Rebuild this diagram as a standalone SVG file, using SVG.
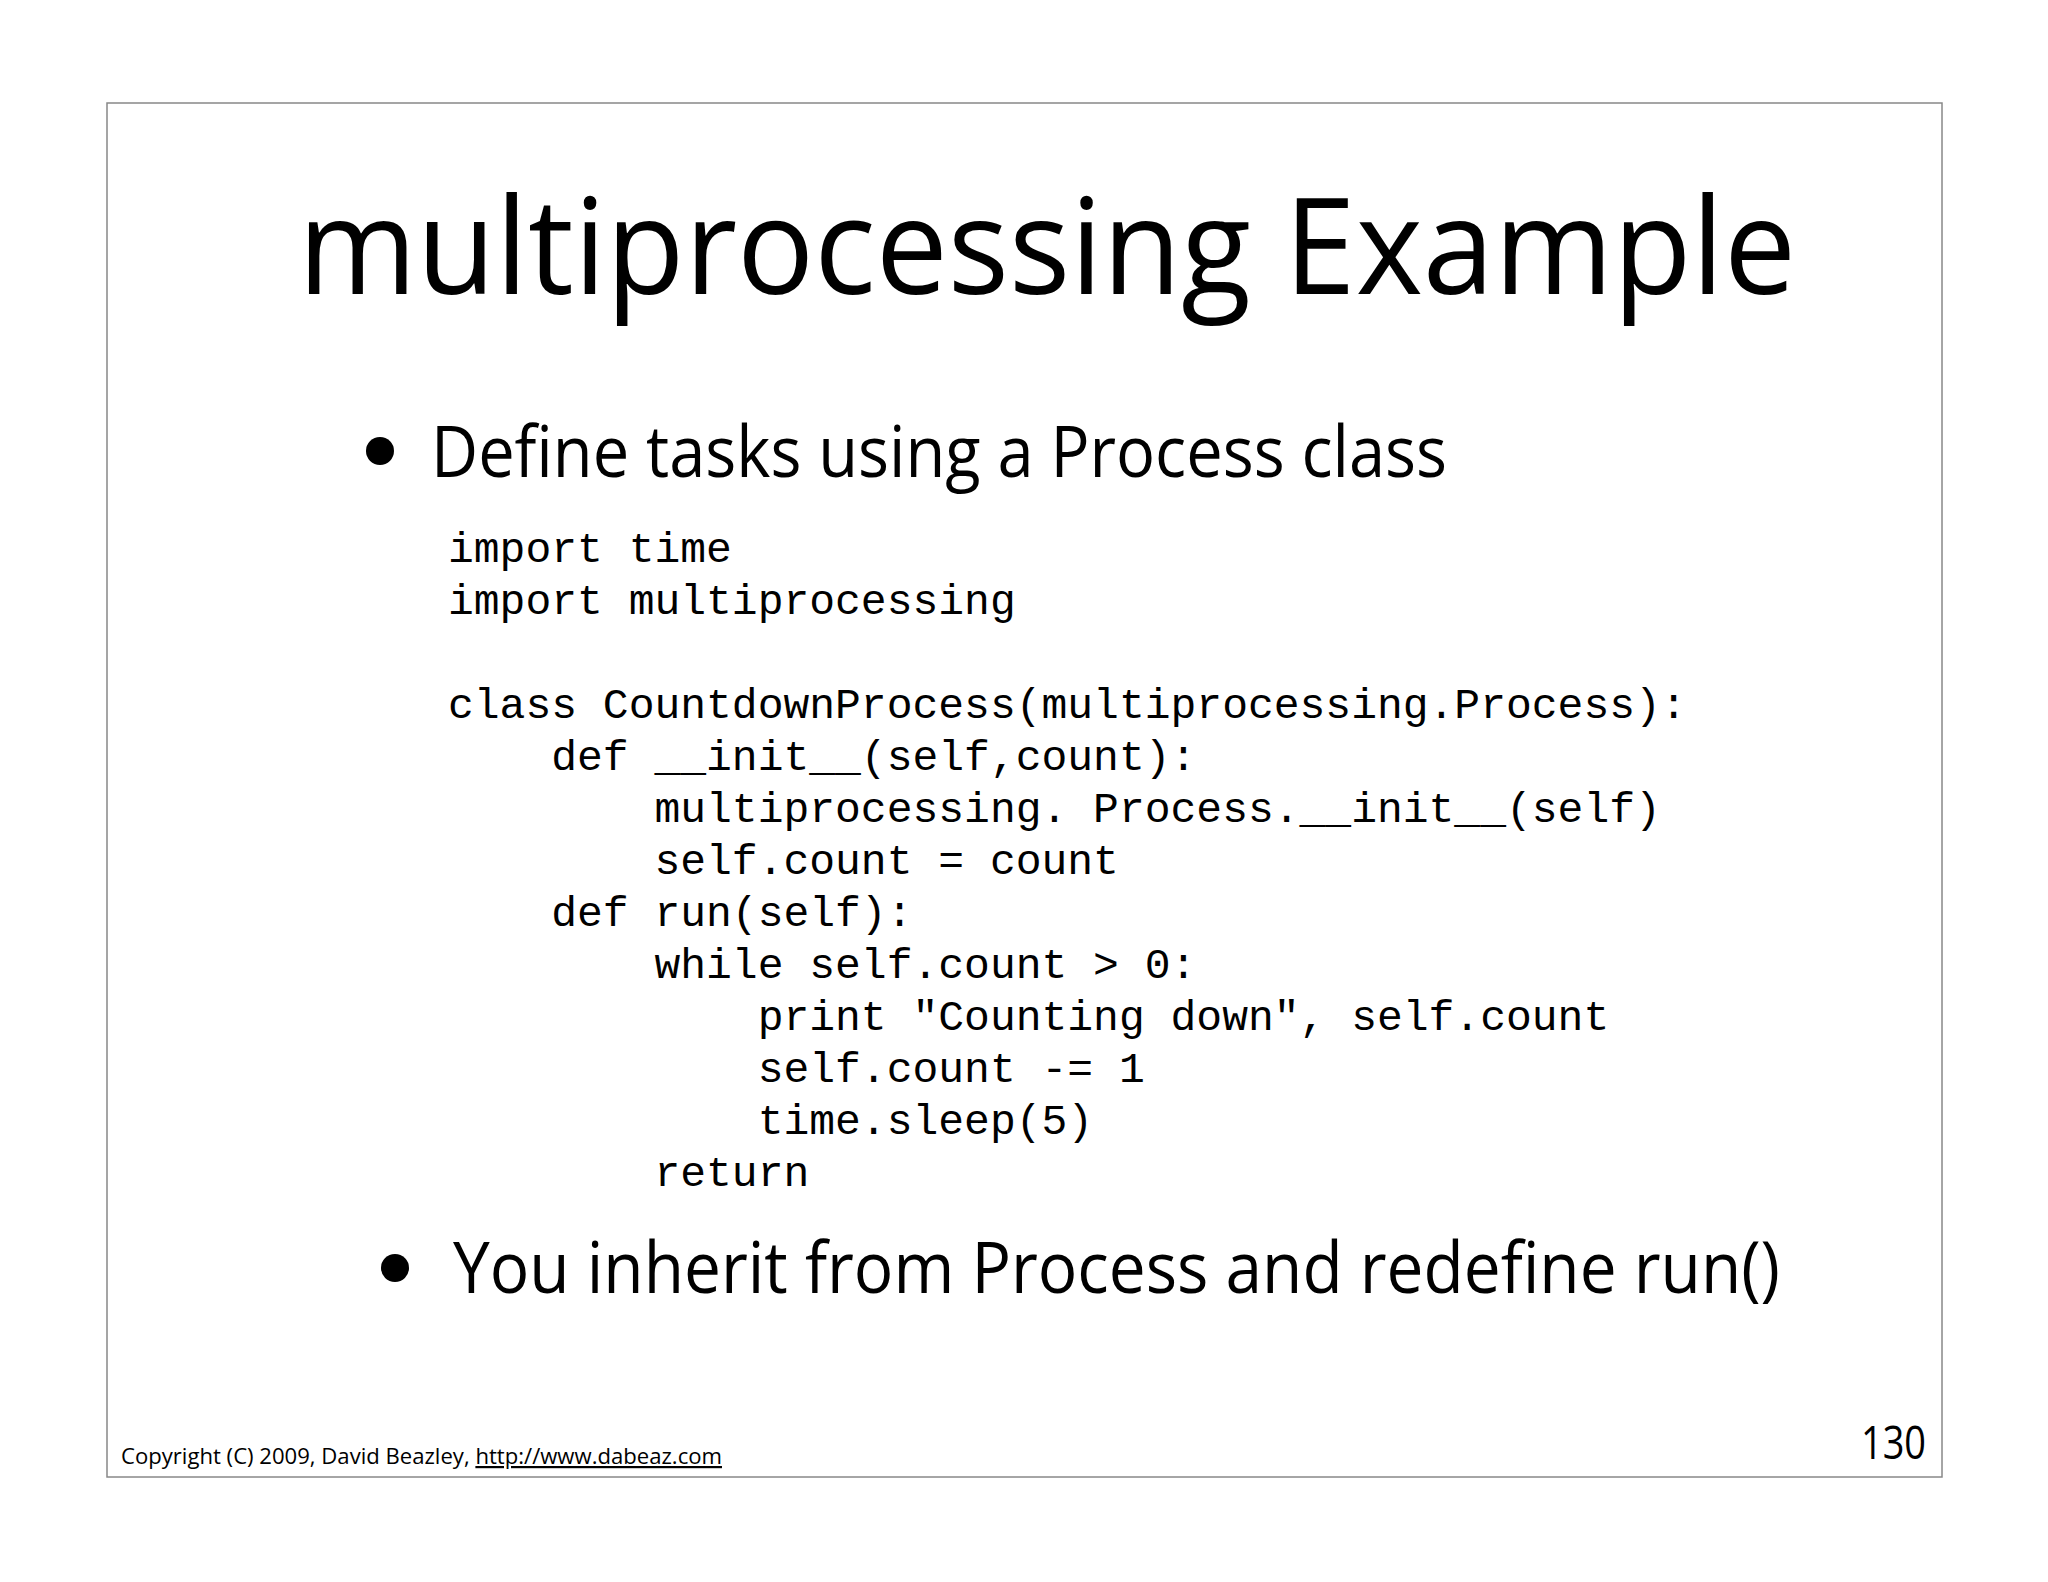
<svg xmlns="http://www.w3.org/2000/svg" width="2048" height="1582" viewBox="0 0 2048 1582">
<style>
.s{font-family:"Open Sans","Lato","DejaVu Sans",sans-serif;fill:#000}
.c{font-family:"Liberation Mono","Courier New",monospace;font-size:43px;fill:#000;white-space:pre}
</style>
<rect width="2048" height="1582" fill="#fff"/>
<g id="frame"><rect x="107" y="103" width="1835" height="1374" fill="none" stroke="#888" stroke-width="1.5"/></g>
<g id="title"><text class="s" x="298" y="294" font-size="134" textLength="1498" lengthAdjust="spacingAndGlyphs">multiprocessing Example</text></g>
<g id="bullet1"><circle cx="380" cy="451" r="14"/><text class="s" x="431" y="477" font-size="72" textLength="1016" lengthAdjust="spacingAndGlyphs">Define tasks using a Process class</text></g>
<g id="code">
<text class="c" x="448" y="562">import time</text>
<text class="c" x="448" y="614">import multiprocessing</text>
<text class="c" x="448" y="718">class CountdownProcess(multiprocessing.Process):</text>
<text class="c" x="448" y="770">    def __init__(self,count):</text>
<text class="c" x="448" y="822">        multiprocessing. Process.__init__(self)</text>
<text class="c" x="448" y="874">        self.count = count</text>
<text class="c" x="448" y="926">    def run(self):</text>
<text class="c" x="448" y="978">        while self.count &gt; 0:</text>
<text class="c" x="448" y="1030">            print "Counting down", self.count</text>
<text class="c" x="448" y="1082">            self.count -= 1</text>
<text class="c" x="448" y="1134">            time.sleep(5)</text>
<text class="c" x="448" y="1186">        return</text>
</g>
<g id="bullet2"><circle cx="395" cy="1268" r="14"/><text class="s" x="453" y="1293" font-size="72" textLength="1327" lengthAdjust="spacingAndGlyphs">You inherit from Process and redefine run()</text></g>
<g id="footer">
<text class="s" x="121" y="1464" font-size="22" textLength="601" lengthAdjust="spacingAndGlyphs">Copyright (C) 2009,  David Beazley, <tspan text-decoration="underline">http://www.dabeaz.com</tspan></text>
<text class="s" x="1861" y="1459" font-size="46" textLength="65" lengthAdjust="spacingAndGlyphs">130</text>
</g>
</svg>
